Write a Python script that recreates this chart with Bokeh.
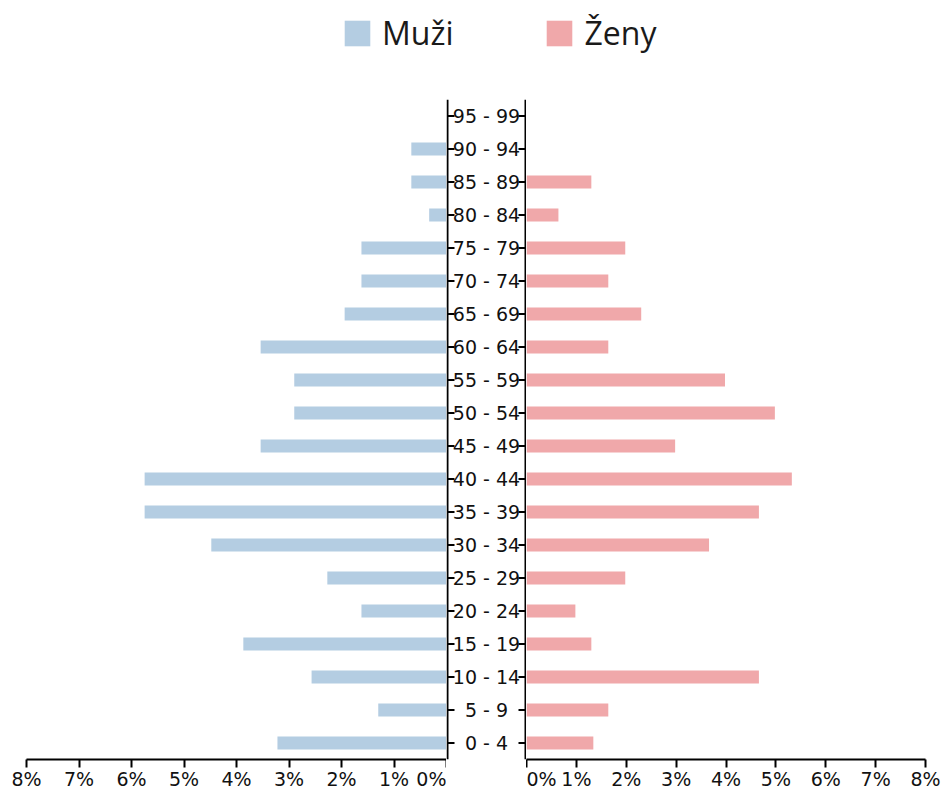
from bokeh.plotting import figure
from bokeh.models import (Range1d, FactorRange, LinearAxis, FixedTicker, Span,
                          PrintfTickFormatter, ColumnDataSource, Legend, LegendItem)
from bokeh.layouts import column, row
from bokeh.embed import file_html
from bokeh.resources import INLINE
from bokeh.core.properties import value

# ---- data (percent of population), bottom -> top ----
ages = ["0 - 4", "5 - 9", "10 - 14", "15 - 19", "20 - 24", "25 - 29", "30 - 34",
        "35 - 39", "40 - 44", "45 - 49", "50 - 54", "55 - 59", "60 - 64", "65 - 69",
        "70 - 74", "75 - 79", "80 - 84", "85 - 89", "90 - 94", "95 - 99"]
men = [3.22, 1.30, 2.57, 3.87, 1.62, 2.27, 4.48, 5.75, 5.75, 3.54,
       2.90, 2.90, 3.54, 1.94, 1.62, 1.62, 0.33, 0.67, 0.67, 0.0]
women = [1.34, 1.64, 4.66, 1.30, 0.98, 1.98, 3.66, 4.66, 5.32, 2.98,
         4.98, 3.98, 1.64, 2.30, 1.64, 1.98, 0.64, 1.30, 0.0, 0.0]
pct_ticks = [0, 1, 2, 3, 4, 5, 6, 7, 8]
series_labels = ["Muži", "Ženy"]

BLUE = "#B4CDE2"
PINK = "#F0A8AA"
FONT = "DejaVu Sans"
LFONT = "Open Sans"
TXT = "#111111"

src = ColumnDataSource(dict(age=ages, men=men, women=women))
Y = FactorRange(factors=ages, range_padding=0)

TOP, BOT, FH = 39, 30, 660
MIDW = 80      # width of the central label column (px)
TICK = 7       # inner tick length (px)


def base(xr, fw, bl, br):
    p = figure(x_range=xr, y_range=Y, frame_width=fw, frame_height=FH,
               min_border_left=bl, min_border_right=br, min_border_top=TOP,
               min_border_bottom=BOT, toolbar_location=None, output_backend="svg",
               x_axis_location=None, y_axis_location=None)
    p.outline_line_color = None
    p.grid.visible = False
    return p


def xaxis():
    return LinearAxis(ticker=FixedTicker(ticks=pct_ticks),
                      formatter=PrintfTickFormatter(format="%d%%"),
                      major_tick_out=8, major_tick_in=0, minor_tick_line_color=None,
                      axis_line_width=2, major_tick_line_width=2,
                      axis_line_color="black", major_tick_line_color="black",
                      major_label_text_font=FONT, major_label_text_font_size="19px",
                      major_label_standoff=0, major_label_text_color=TXT)


# left panel (men)
left = base(Range1d(8, 0), 420, 26, 0)
left.hbar(y="age", left=0, right="men", height=0.4, source=src,
          fill_color=BLUE, line_color=None)
left.add_layout(xaxis(), "below")

# middle (age labels with the two inner axis lines and their ticks)
mid = base(Range1d(0, MIDW), MIDW, 0, 0)
xl, xr_ = 1, MIDW - 1
mid.add_layout(Span(location=xl, dimension="height", line_color="black", line_width=2))
mid.add_layout(Span(location=xr_, dimension="height", line_color="black", line_width=2))
tick_src = ColumnDataSource(dict(age=ages, a0=[xl] * len(ages), a1=[xl + TICK] * len(ages),
                                 b0=[xr_ - TICK] * len(ages), b1=[xr_] * len(ages),
                                 c=[MIDW / 2] * len(ages)))
mid.segment(x0="a0", x1="a1", y0="age", y1="age", source=tick_src,
            line_color="black", line_width=2)
mid.segment(x0="b0", x1="b1", y0="age", y1="age", source=tick_src,
            line_color="black", line_width=2)
mid.text(x="c", y="age", text="age", source=tick_src, text_align="center",
         text_baseline="middle", text_font=value(FONT), text_font_size="19px",
         text_color=TXT)

# right panel (women)
right = base(Range1d(0, 8), 399, 0, 19)
right.hbar(y="age", left=0, right="women", height=0.4, source=src,
           fill_color=PINK, line_color=None)
right.add_layout(xaxis(), "below")

# legend strip
lg = figure(width=944, height=60, x_range=Range1d(0, 1), y_range=Range1d(0, 1),
            toolbar_location=None, output_backend="svg", x_axis_location=None,
            y_axis_location=None, min_border=0)
lg.outline_line_color = None
lg.grid.visible = False
# swatch renderers kept outside the visible range; only their legend entries show
r1 = lg.hbar(y=[-5], left=[0], right=[1], height=0.4, fill_color=BLUE, line_color=None)
r2 = lg.hbar(y=[-5], left=[0], right=[1], height=0.4, fill_color=PINK, line_color=None)
legend = Legend(items=[LegendItem(label=series_labels[0], renderers=[r1]),
                       LegendItem(label=series_labels[1], renderers=[r2])],
                orientation="horizontal", location=(341, 6),
                glyph_width=32, glyph_height=32, label_standoff=9, spacing=90,
                padding=0, margin=0, border_line_color=None, background_fill_alpha=0,
                label_text_font=LFONT, label_text_font_size="32px",
                label_text_color="#1a1a1a", label_text_baseline="middle")
lg.add_layout(legend, "center")

page = column(lg, row(left, mid, right))
open("out.html", "w").write(file_html(page, INLINE))
